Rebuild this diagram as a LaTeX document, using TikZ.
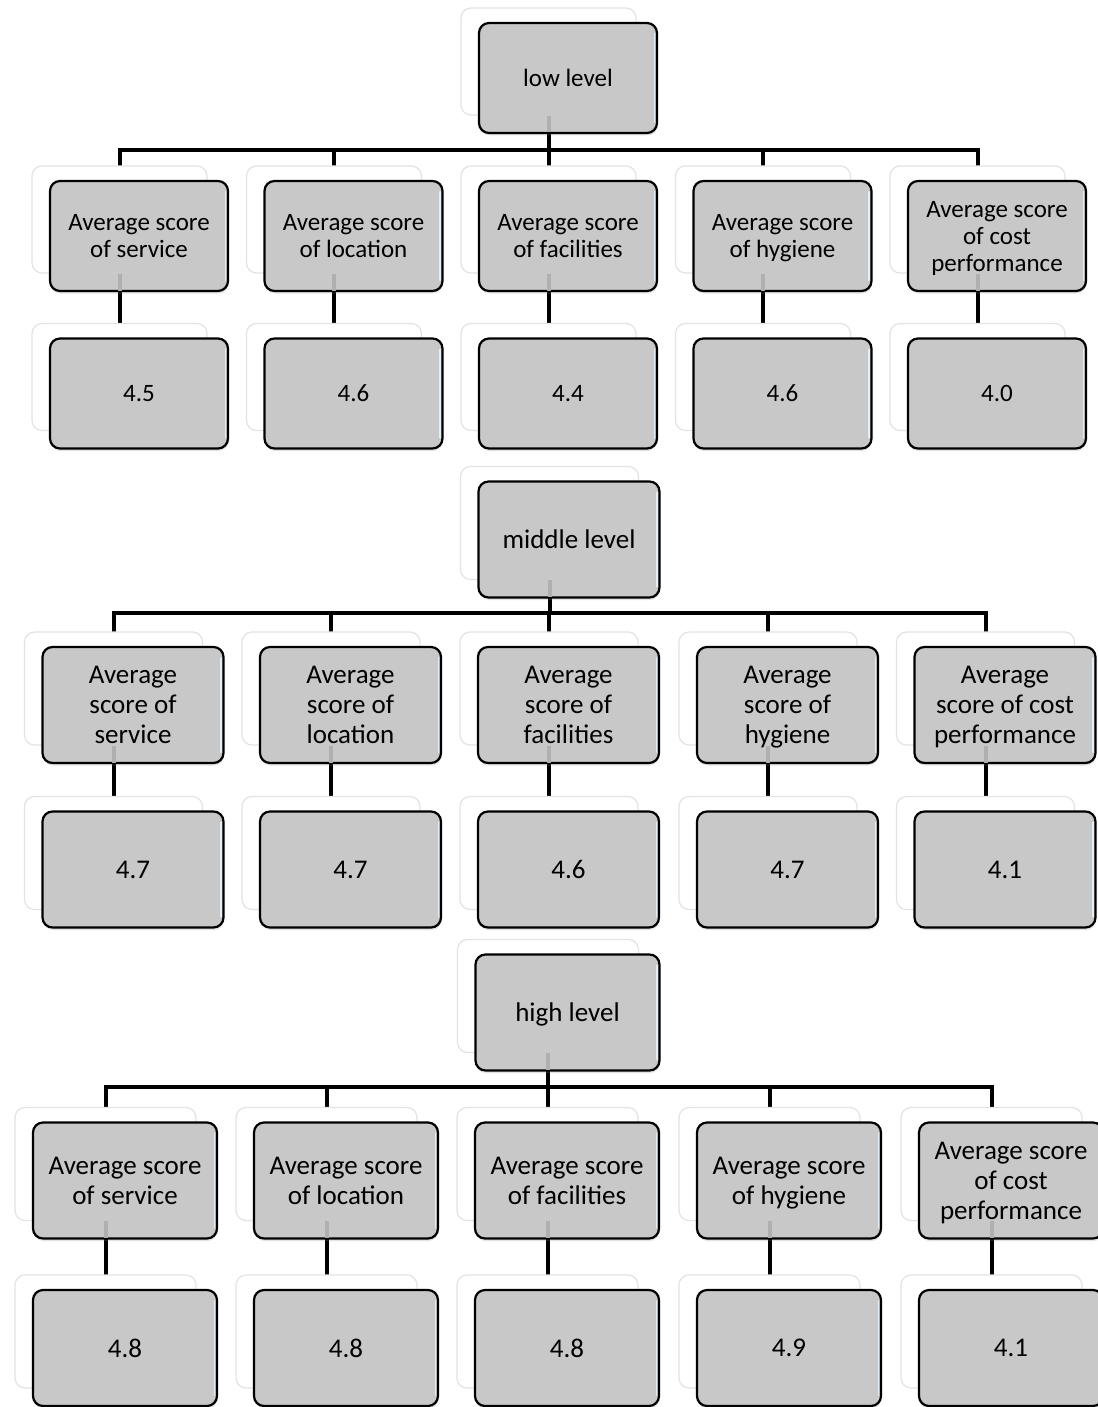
\documentclass[tikz,border=0pt]{standalone}
\usepackage{fontspec}
\setmainfont{Carlito}
\usetikzlibrary{backgrounds,shadows}
\definecolor{boxgray}{RGB}{200,200,200}
\definecolor{glosscol}{RGB}{228,238,246}
\definecolor{faintcol}{RGB}{176,176,176}
\pgfdeclarehorizontalshading{shgrad}{100bp}{color(0bp)=(black!13); color(9bp)=(white); color(100bp)=(white)}
\tikzset{
 mainbox/.style={draw=black, line width=2.2pt, rounded corners=10pt, fill=boxgray, align=center, inner sep=0pt, text depth=0pt,
   drop shadow={shadow xshift=0.5pt, shadow yshift=-2.5pt, opacity=0.22}},
 shbox/.style={draw=black!11, line width=1.2pt, rounded corners=10pt, shading=shgrad, inner sep=0pt},
 conn/.style={line width=4pt, draw=black, line join=miter},
 faint/.style={line width=4pt, draw=faintcol},
 gloss/.style={line width=1.6pt, draw=glosscol, line cap=round},
 fA/.style={font=\fontsize{25}{27}\selectfont},
 fB/.style={font=\fontsize{27}{30}\selectfont},
}
\newcommand\mkbox[7]{%
 \node[shbox, minimum width={#4-3}, minimum height={#5-3}] (#1-sh) at (#2-19.5,#3-16.5) {};
 \node[mainbox, #6, minimum width={#4}, minimum height={#5}] (#1) at (#2,#3) {#7};
 \draw[gloss] ([shift={(-3.5,12)}]#1.north east) -- ([shift={(-3.5,-12)}]#1.south east);
}
\begin{document}
\begin{tikzpicture}[x=1pt,y=-1pt]
\useasboundingbox (0,0) rectangle (1097,1407);
\begin{pgfonlayer}{background}
\fill[white] (0,0) rectangle (1097,1407);
\end{pgfonlayer}
% ---------- tree 1 ----------
\mkbox{t1r}{568}{78}{178}{110}{fA}{low level}
\mkbox{t1c1}{139}{236}{178}{110}{fA}{Average score\\of service}
\mkbox{t1c2}{353.5}{236}{178}{110}{fA}{Average score\\of location}
\mkbox{t1c3}{568}{236}{178}{110}{fA}{Average score\\of facilities}
\mkbox{t1c4}{782.5}{236}{178}{110}{fA}{Average score\\of hygiene}
\mkbox{t1c5}{997}{236}{178}{110}{fA}{Average score\\of cost\\performance}
\mkbox{t1v1}{139}{393.5}{178}{110}{fA}{4.5}
\mkbox{t1v2}{353.5}{393.5}{178}{110}{fA}{4.6}
\mkbox{t1v3}{568}{393.5}{178}{110}{fA}{4.4}
\mkbox{t1v4}{782.5}{393.5}{178}{110}{fA}{4.6}
\mkbox{t1v5}{997}{393.5}{178}{110}{fA}{4.0}
% ---------- tree 2 ----------
\mkbox{t2r}{569}{539.5}{181}{116}{fB}{middle level}
\mkbox{t2c1}{133}{705}{181}{116}{fB}{Average\\score of\\service}
\mkbox{t2c2}{350.5}{705}{181}{116}{fB}{Average\\score of\\location}
\mkbox{t2c3}{568.5}{705}{181}{116}{fB}{Average\\score of\\facilities}
\mkbox{t2c4}{787.5}{705}{181}{116}{fB}{Average\\score of\\hygiene}
\mkbox{t2c5}{1005}{705}{181}{116}{fB}{Average\\score of cost\\performance}
\mkbox{t2v1}{133}{869.5}{181}{116}{fB}{4.7}
\mkbox{t2v2}{350.5}{869.5}{181}{116}{fB}{4.7}
\mkbox{t2v3}{568.5}{869.5}{181}{116}{fB}{4.6}
\mkbox{t2v4}{787.5}{869.5}{181}{116}{fB}{4.7}
\mkbox{t2v5}{1005}{869.5}{181}{116}{fB}{4.1}
% ---------- tree 3 ----------
\mkbox{t3r}{567.5}{1012.5}{184}{116}{fB}{high level}
\mkbox{t3c1}{125}{1180.5}{184}{116}{fB}{Average score\\of service}
\mkbox{t3c2}{346}{1180.5}{184}{116}{fB}{Average score\\of location}
\mkbox{t3c3}{567}{1180.5}{184}{116}{fB}{Average score\\of facilities}
\mkbox{t3c4}{789}{1180.5}{184}{116}{fB}{Average score\\of hygiene}
\mkbox{t3c5}{1011}{1180.5}{184}{116}{fB}{Average score\\of cost\\performance}
\mkbox{t3v1}{125}{1348}{184}{116}{fB}{4.8}
\mkbox{t3v2}{346}{1348}{184}{116}{fB}{4.8}
\mkbox{t3v3}{567}{1348}{184}{116}{fB}{4.8}
\mkbox{t3v4}{789}{1348}{184}{116}{fB}{4.9}
\mkbox{t3v5}{1011}{1348}{184}{116}{fB}{4.1}
% ---------- connectors ----------
\coordinate (bar1) at (0,150);
\coordinate (bar2) at (0,613);
\coordinate (bar3) at (0,1087);
\begin{pgfonlayer}{background}
\foreach \t/\b in {t1/bar1,t2/bar2,t3/bar3}{
  \draw[conn] (\t r-sh.center) -- (\t r-sh.center |- \b);
  \draw[conn] (\t c1-sh.center) -- (\t c1-sh.center |- \b) -- (\t c5-sh.center |- \b) -- (\t c5-sh.center);
  \foreach \i in {2,3,4}{\draw[conn] (\t c\i-sh.center |- \b) -- (\t c\i-sh.center);}
  \foreach \i in {1,...,5}{\draw[conn] (\t c\i-sh.center) -- (\t v\i-sh.center);}
}
\end{pgfonlayer}
% faint parts of the connectors seen through the boxes
\foreach \t in {t1,t2,t3}{
  \draw[faint] (\t r-sh.south) -- ([yshift=1.6pt]\t r-sh.south |- \t r.south);
  \foreach \i in {1,...,5}{\draw[faint] (\t c\i-sh.south) -- ([yshift=1.6pt]\t c\i-sh.south |- \t c\i.south);}
}
\end{tikzpicture}
\end{document}
